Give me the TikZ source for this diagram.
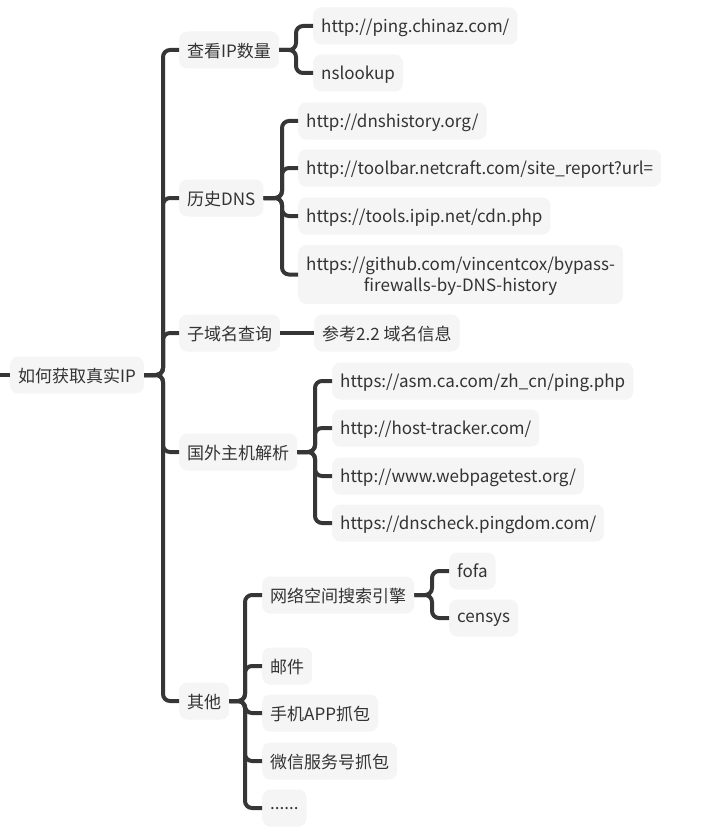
\documentclass[tikz,border=0pt]{standalone}
\usepackage{fontspec}
\setmainfont{Noto Sans CJK SC}
\definecolor{boxgray}{HTML}{F5F5F5}
\definecolor{linegray}{HTML}{363636}
\definecolor{textgray}{HTML}{333333}
\begin{document}
\begin{tikzpicture}[
            x = 1pt, y = -1pt,
            every node/.style={text depth=0pt},
            topic/.style={fill=boxgray, rounded corners=8pt, anchor=west, inner xsep=8pt, inner ysep=2pt,
                          minimum height=37pt, text=textgray, font=\fontsize{17}{21}\selectfont},
            line/.style={line width=4pt, draw=linegray, rounded corners=7pt},
            ]
        \useasboundingbox (0, 0) rectangle (704, 840);

        \node[topic] (0) at (10, 375) {如何获取真实IP};

        \node[topic] (1) at (179, 50) {查看IP数量};
        \node[topic] (2) at (179, 198) {历史DNS};
        \node[topic] (3) at (179, 333) {子域名查询};
        \node[topic] (4) at (179, 452) {国外主机解析};
        \node[topic] (5) at (179, 701) {其他};

        \node[topic] (11) at (313, 26) {http://ping.chinaz.com/};
        \node[topic] (12) at (313, 73) {nslookup};

        \node[topic] (21) at (298, 121) {http://dnshistory.org/};
        \node[topic] (22) at (298, 168) {http://toolbar.netcraft.com/site\_report?url=};
        \node[topic] (23) at (298, 216) {https://tools.ipip.net/cdn.php};
        \node[topic, align=center, minimum height=59pt] (24) at (298, 274.5) {https://github.com/vincentcox/bypass-\\firewalls-by-DNS-history};

        \node[topic] (31) at (314, 333) {参考2.2 域名信息};

        \node[topic] (41) at (332, 381) {https://asm.ca.com/zh\_cn/ping.php};
        \node[topic] (42) at (332, 428) {http://host-tracker.com/};
        \node[topic] (43) at (332, 476) {http://www.webpagetest.org/};
        \node[topic] (44) at (332, 523) {https://dnscheck.pingdom.com/};

        \node[topic] (51) at (262, 595) {网络空间搜索引擎};
        \node[topic] (52) at (262, 666) {邮件};
        \node[topic] (53) at (262, 713) {手机APP抓包};
        \node[topic] (54) at (262, 761) {微信服务号抓包};
        \node[topic] (55) at (262, 808) {......};

        \node[topic] (511) at (449, 571) {fofa};
        \node[topic] (512) at (449, 618) {censys};

        \coordinate (in) at (0, 375);
        \draw[line] (in) -- (0);

        \foreach \i in {1,...,5}
            \draw[line] (0.east) -- (163, 375) |- (\i.west);
        \foreach \i in {11,12}
            \draw[line] (1.east) -- (296, 50) |- (\i.west);
        \foreach \i in {21,...,24}
            \draw[line] (2.east) -- (282, 198) |- (\i.west);
        \draw[line] (3) -- (31);
        \foreach \i in {41,...,44}
            \draw[line] (4.east) -- (315, 452) |- (\i.west);
        \foreach \i in {51,...,55}
            \draw[line] (5.east) -- (245, 701) |- (\i.west);
        \foreach \i in {511,512}
            \draw[line] (51.east) -- (432, 595) |- (\i.west);
    \end{tikzpicture}
\end{document}
